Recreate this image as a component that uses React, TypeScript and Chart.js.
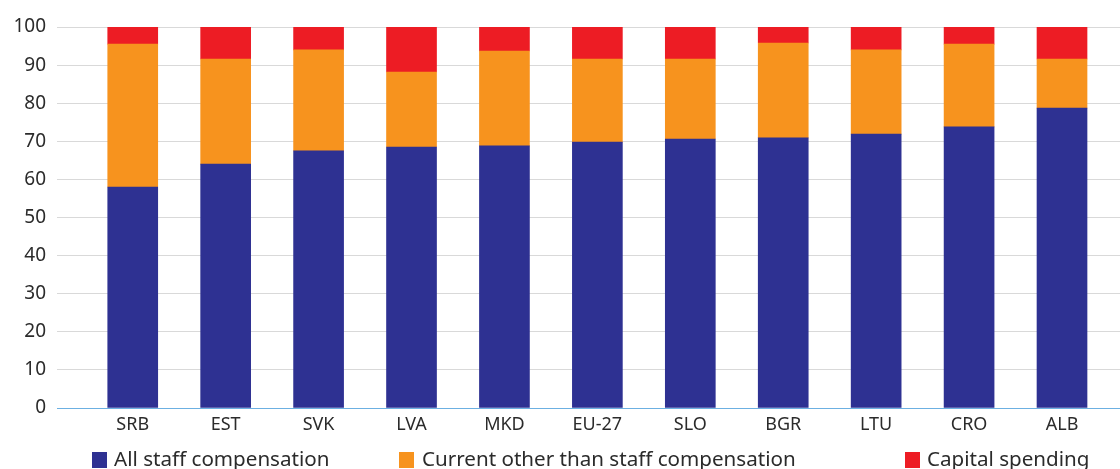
import React, { useEffect, useRef } from "react";
import { Chart, registerables } from "chart.js";

Chart.register(...registerables);

const categories = ["SRB", "EST", "SVK", "LVA", "MKD", "EU-27", "SLO", "BGR", "LTU", "CRO", "ALB"];
const staffCompensation = [58.0, 64.0, 67.5, 68.5, 68.8, 69.8, 70.6, 70.9, 71.9, 73.8, 78.7];
const currentOther = [37.5, 27.6, 26.5, 19.7, 24.9, 21.8, 21.0, 24.9, 22.1, 21.7, 12.9];
const capitalSpending = [4.5, 8.4, 6.0, 11.8, 6.3, 8.4, 8.4, 4.2, 6.0, 4.5, 8.4];
const yTicks = [0, 10, 20, 30, 40, 50, 60, 70, 80, 90, 100];

const seriesNames = ["All staff compensation", "Current other than staff compensation", "Capital spending"];
const seriesColors = ["#2E3192", "#F7931E", "#ED1C24"];

const FONT = "'Noto Sans', 'Open Sans', sans-serif";
const TEXT = "#2b2b2b";

// Legend row along the bottom edge, laid out in three fixed slots
const legendPlugin = {
  id: "bottomLegend",
  afterDraw(chart: Chart) {
    const ctx = chart.ctx;
    const boxX = [92, 399, 905];
    const textX = [114, 422, 927];
    ctx.save();
    ctx.font = `20.6px ${FONT}`;
    ctx.textBaseline = "alphabetic";
    ctx.textAlign = "left";
    seriesNames.forEach((name, i) => {
      ctx.fillStyle = seriesColors[i];
      ctx.fillRect(boxX[i], 452, 15, 16);
      ctx.fillStyle = TEXT;
      ctx.fillText(name, textX[i], 466);
    });
    ctx.restore();
  },
};

export default function App() {
  const ref = useRef<HTMLCanvasElement | null>(null);

  useEffect(() => {
    document.body.style.margin = "0";
    const series = [staffCompensation, currentOther, capitalSpending];
    const chart = new Chart(ref.current!, {
      type: "bar",
      data: {
        datasets: series.map((vals, s) => ({
          label: seriesNames[s],
          data: vals.map((v, i) => ({ x: i, y: v })),
          backgroundColor: seriesColors[s],
          borderWidth: 0,
          barThickness: 50,
        })),
      },
      options: {
        animation: false,
        responsive: false,
        devicePixelRatio: 1,
        layout: { padding: { top: 27, left: 0, right: 0, bottom: 0 } },
        plugins: { legend: { display: false }, tooltip: { enabled: false } },
        scales: {
          x: {
            type: "linear",
            stacked: true,
            offset: false,
            min: -0.815,
            max: 10.624,
            grid: { display: false, drawTicks: false, offset: false },
            border: { display: true, color: "#6CB0E2", width: 1 },
            afterBuildTicks: (scale: any) => {
              scale.ticks = categories.map((_, i) => ({ value: i }));
            },
            afterFit: (scale: any) => {
              scale.height = 61;
            },
            ticks: {
              autoSkip: false,
              maxRotation: 0,
              padding: 6,
              color: TEXT,
              font: { family: FONT, size: 18 },
              callback: (v: any) => categories[v as number] ?? "",
            },
          },
          y: {
            stacked: true,
            min: 0,
            max: 100,
            afterBuildTicks: (scale: any) => {
              scale.ticks = yTicks.map((v) => ({ value: v }));
            },
            afterFit: (scale: any) => {
              scale.width = 57;
            },
            grid: { color: "#D9D9D9", lineWidth: 1, drawTicks: false },
            border: { display: false },
            ticks: {
              padding: 11,
              color: TEXT,
              font: { family: FONT, size: 19 },
            },
          },
        },
      },
      plugins: [legendPlugin],
    });
    return () => chart.destroy();
  }, []);

  return (
    <div style={{ width: 1120, height: 469 }}>
      <canvas ref={ref} width={1120} height={469} style={{ display: "block" }} />
    </div>
  );
}
